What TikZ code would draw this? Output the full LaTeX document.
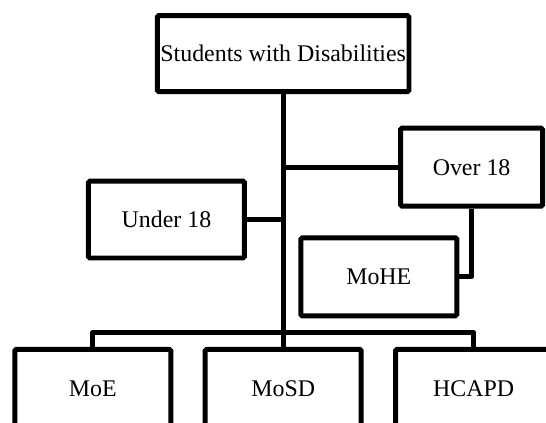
\documentclass[tikz,border=0pt]{standalone}
\usepackage{fontspec}
\setmainfont{Liberation Serif}
\usetikzlibrary{positioning}

\begin{document}
\begin{tikzpicture}[
    box/.style={rectangle, draw, line width=3.5pt, rounded corners=1pt, minimum width=3.9cm, minimum height=1.95cm, inner sep=0pt, align=center, font=\fontsize{17}{20}\selectfont},
    link/.style={line width=3.5pt, line join=round}
]
    \useasboundingbox (0,0) rectangle (13.65,-10.575);

    % Root
    \node[box, minimum width=6.29cm, minimum height=1.9cm] (root) at (7.08,-1.34) {Students with Disabilities};

    % Age groups
    \node[box, minimum width=3.55cm] (over) at (11.79,-4.18) {Over 18};
    \node[box, minimum height=1.92cm] (under) at (4.16,-5.49) {Under 18};
    \node[box] (mohe) at (9.47,-6.92) {MoHE};

    % Ministries
    \node[box] (moe) at (2.32,-9.71) {MoE};
    \node[box] (mosd) at (7.08,-9.71) {MoSD};
    \node[box] (hcapd) at (11.84,-9.71) {HCAPD};
    \coordinate (bus) at (7.08,-8.31);

    % Links
    \draw[link] (root) -- (mosd);
    \draw[link] (over.west) -- (over.west -| root.south);
    \draw[link] (under.east) -- (under.east -| root.south);
    \draw[link] (over.south) |- (mohe.east);
    \draw[link] (moe.north) |- (bus) -| (hcapd.north);
\end{tikzpicture}
\end{document}
